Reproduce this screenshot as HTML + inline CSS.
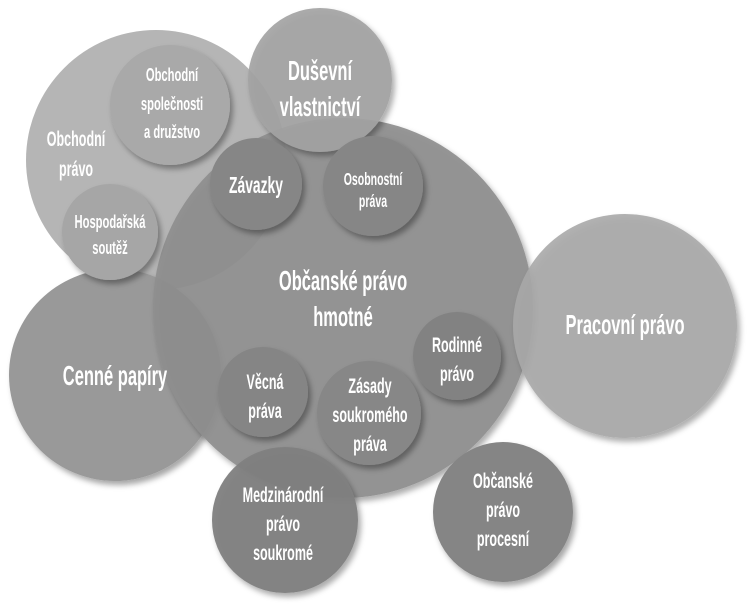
<!DOCTYPE html>
<html><head><meta charset="utf-8"><style>
html,body{margin:0;padding:0;background:#fff;width:750px;height:605px;overflow:hidden}
text{font-family:"Liberation Sans",sans-serif;fill:#fff;text-anchor:middle;font-weight:bold}
</style></head><body>
<svg width="750" height="605" viewBox="0 0 750 605" xmlns="http://www.w3.org/2000/svg">
<defs>
<filter id="sh" x="-20%" y="-20%" width="150%" height="150%"><feDropShadow dx="3" dy="4" stdDeviation="3" flood-color="#000" flood-opacity="0.35"/></filter>
</defs>
<circle cx="156" cy="160" r="130" fill="#b5b5b5"/>
<circle cx="115" cy="375" r="106" fill="#999" filter="url(#sh)"/>
<circle cx="343" cy="308" r="190" fill="#8e8e8e" fill-opacity="0.92" filter="url(#sh)"/>
<circle cx="625" cy="326" r="112" fill="#a8a8a8" fill-opacity="0.9" filter="url(#sh)"/>
<circle cx="170" cy="105" r="60" fill="#a9a9a9" filter="url(#sh)"/>
<circle cx="110" cy="232" r="48" fill="#a6a6a6" filter="url(#sh)"/>
<circle cx="320" cy="80" r="72" fill="#a3a3a3" fill-opacity="0.92" filter="url(#sh)"/>
<circle cx="256" cy="184" r="46" fill="#868686" filter="url(#sh)"/>
<circle cx="373" cy="186" r="50" fill="#868686" filter="url(#sh)"/>
<circle cx="457" cy="356" r="44" fill="#828282" filter="url(#sh)"/>
<circle cx="263" cy="392" r="45" fill="#858585" filter="url(#sh)"/>
<circle cx="369" cy="413" r="52" fill="#878787" filter="url(#sh)"/>
<circle cx="285" cy="520" r="73" fill="#7f7f7f" fill-opacity="0.95" filter="url(#sh)"/>
<circle cx="503" cy="512" r="70" fill="#858585" filter="url(#sh)"/>

<g font-size="19">
<text transform="translate(76,146) scale(0.66,1.1)">Obchodní</text>
<text transform="translate(76,176) scale(0.66,1.1)">právo</text>
</g>
<g font-size="17">
<text transform="translate(172,81) scale(0.66,1.1)">Obchodní</text>
<text transform="translate(172,110) scale(0.66,1.1)">společnosti</text>
<text transform="translate(172,138) scale(0.66,1.1)">a družstvo</text>
<text transform="translate(110,228) scale(0.66,1.1)">Hospodařská</text>
<text transform="translate(110,254) scale(0.66,1.1)">soutěž</text>
</g>
<g font-size="25">
<text transform="translate(320,80) scale(0.66,1.1)">Duševní</text>
<text transform="translate(320,116) scale(0.66,1.1)">vlastnictví</text>
<text transform="translate(343,290) scale(0.66,1.1)">Občanské právo</text>
<text transform="translate(343,326) scale(0.66,1.1)">hmotné</text>
<text transform="translate(115,385) scale(0.66,1.1)">Cenné papíry</text>
<text transform="translate(625,334) scale(0.66,1.1)">Pracovní právo</text>
</g>
<g font-size="21">
<text transform="translate(256,193) scale(0.66,1.1)">Závazky</text>
</g>
<g font-size="16">
<text transform="translate(373,185) scale(0.66,1.1)">Osobnostní</text>
<text transform="translate(373,207) scale(0.66,1.1)">práva</text>
</g>
<g font-size="19">
<text transform="translate(457,352) scale(0.66,1.1)">Rodinné</text>
<text transform="translate(457,381) scale(0.66,1.1)">právo</text>
<text transform="translate(265,389) scale(0.66,1.1)">Věcná</text>
<text transform="translate(265,418) scale(0.66,1.1)">práva</text>
<text transform="translate(370,393) scale(0.66,1.1)">Zásady</text>
<text transform="translate(370,422) scale(0.66,1.1)">soukromého</text>
<text transform="translate(370,451) scale(0.66,1.1)">práva</text>
<text transform="translate(283,502) scale(0.66,1.1)">Medzinárodní</text>
<text transform="translate(283,531) scale(0.66,1.1)">právo</text>
<text transform="translate(283,560) scale(0.66,1.1)">soukromé</text>
<text transform="translate(503,488) scale(0.66,1.1)">Občanské</text>
<text transform="translate(503,517) scale(0.66,1.1)">právo</text>
<text transform="translate(503,546) scale(0.66,1.1)">procesní</text>
</g>
</svg>
</body></html>
